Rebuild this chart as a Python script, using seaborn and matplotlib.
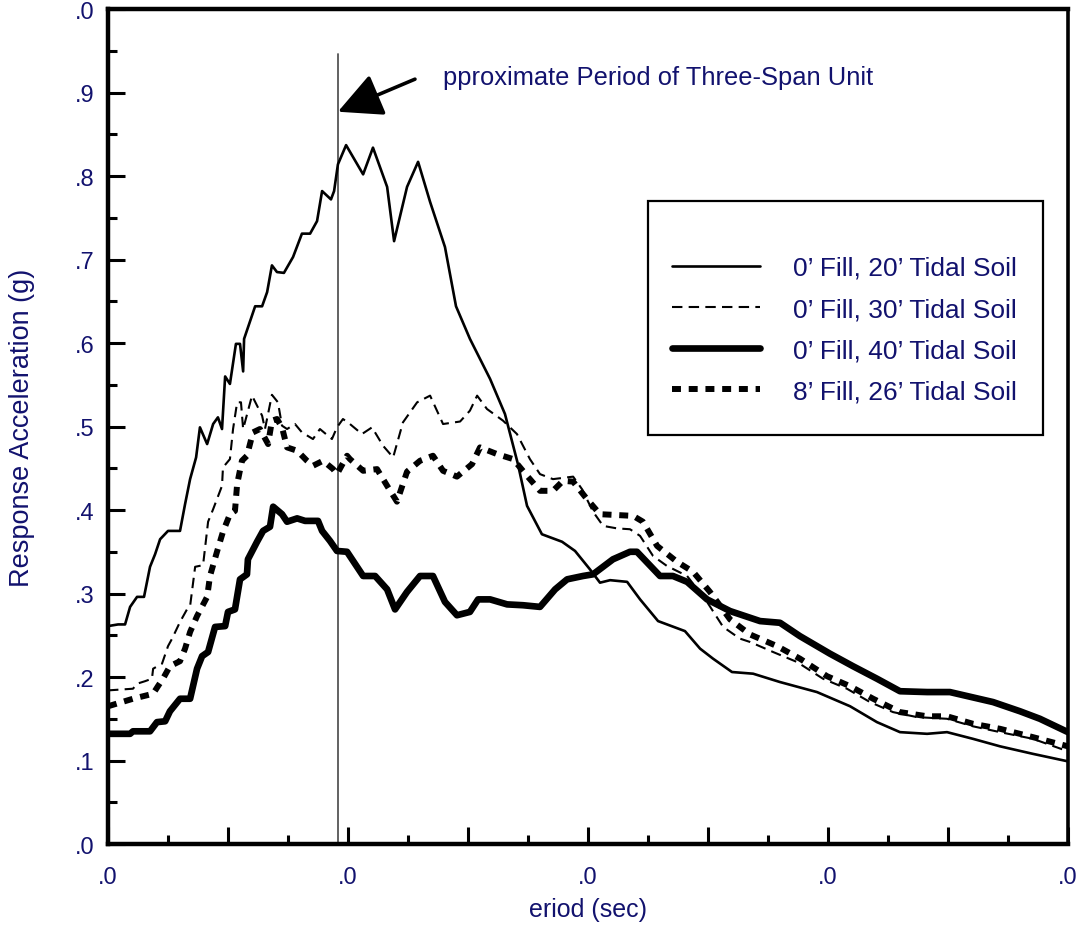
import numpy as np
import pandas as pd
import matplotlib
matplotlib.use("Agg")
import matplotlib.pyplot as plt
from matplotlib.patches import Rectangle
import seaborn as sns

sns.set_style("white")
plt.rcParams['font.family'] = ['Liberation Sans', 'DejaVu Sans']
navy = '#12126e'

# response spectra, period (sec) vs spectral acceleration (g)
t_20 = [0.000, 0.042, 0.071, 0.092, 0.121, 0.150, 0.175, 0.196, 0.217, 0.250, 0.300, 0.321, 0.342,
        0.367, 0.383, 0.413, 0.438, 0.458, 0.475, 0.488, 0.508, 0.533, 0.550, 0.563, 0.567, 0.613,
        0.642, 0.663, 0.683, 0.704, 0.733, 0.771, 0.808, 0.842, 0.871, 0.892, 0.929, 0.942, 0.958,
        0.992, 1.063, 1.104, 1.163, 1.192, 1.246, 1.292, 1.342, 1.404, 1.450, 1.508, 1.592, 1.654,
        1.708, 1.746, 1.808, 1.892, 1.946, 2.008, 2.050, 2.092, 2.163, 2.217, 2.292, 2.404, 2.467,
        2.521, 2.600, 2.688, 2.800, 2.954, 3.092, 3.204, 3.300, 3.413, 3.496, 3.604, 3.717, 3.854, 4.000]
a_20 = [0.261, 0.263, 0.263, 0.284, 0.296, 0.296, 0.332, 0.347, 0.365, 0.375, 0.375, 0.407, 0.437,
        0.463, 0.499, 0.479, 0.503, 0.511, 0.497, 0.560, 0.551, 0.599, 0.599, 0.566, 0.605, 0.644,
        0.644, 0.661, 0.693, 0.685, 0.684, 0.703, 0.731, 0.731, 0.746, 0.782, 0.772, 0.782, 0.814,
        0.837, 0.802, 0.834, 0.787, 0.722, 0.787, 0.817, 0.769, 0.715, 0.644, 0.605, 0.557, 0.515,
        0.455, 0.405, 0.371, 0.362, 0.351, 0.329, 0.313, 0.316, 0.314, 0.293, 0.267, 0.255, 0.234,
        0.222, 0.206, 0.204, 0.194, 0.182, 0.165, 0.146, 0.134, 0.132, 0.134, 0.126, 0.117, 0.108, 0.099]

t_30 = [0.000, 0.104, 0.121, 0.154, 0.183, 0.188, 0.225, 0.250, 0.267, 0.300, 0.329, 0.342, 0.363,
        0.396, 0.417, 0.438, 0.475, 0.479, 0.508, 0.521, 0.538, 0.554, 0.563, 0.600, 0.642, 0.654,
        0.683, 0.708, 0.725, 0.746, 0.779, 0.808, 0.854, 0.883, 0.933, 0.954, 0.979, 1.008, 1.058,
        1.100, 1.146, 1.188, 1.229, 1.288, 1.342, 1.396, 1.467, 1.508, 1.538, 1.579, 1.646, 1.704,
        1.758, 1.800, 1.854, 1.938, 1.975, 2.021, 2.063, 2.121, 2.175, 2.217, 2.271, 2.329, 2.413,
        2.496, 2.563, 2.633, 2.675, 2.771, 2.871, 2.979, 3.079, 3.175, 3.271, 3.371, 3.496, 3.604,
        3.717, 3.854, 4.000]
a_30 = [0.184, 0.186, 0.192, 0.195, 0.198, 0.210, 0.216, 0.237, 0.246, 0.266, 0.281, 0.285, 0.332,
        0.334, 0.386, 0.401, 0.429, 0.451, 0.461, 0.497, 0.529, 0.529, 0.497, 0.537, 0.513, 0.497,
        0.538, 0.529, 0.501, 0.497, 0.503, 0.493, 0.485, 0.497, 0.485, 0.499, 0.509, 0.503, 0.491,
        0.499, 0.477, 0.463, 0.505, 0.529, 0.537, 0.503, 0.506, 0.519, 0.537, 0.521, 0.507, 0.491,
        0.461, 0.443, 0.437, 0.440, 0.425, 0.398, 0.381, 0.378, 0.377, 0.369, 0.345, 0.333, 0.321,
        0.290, 0.260, 0.246, 0.242, 0.230, 0.218, 0.198, 0.186, 0.170, 0.158, 0.152, 0.150, 0.141,
        0.134, 0.126, 0.111]

t_40 = [0.000, 0.092, 0.104, 0.175, 0.204, 0.238, 0.258, 0.300, 0.342, 0.371, 0.392, 0.417, 0.446,
        0.488, 0.500, 0.529, 0.550, 0.579, 0.583, 0.621, 0.646, 0.675, 0.688, 0.725, 0.746, 0.788,
        0.821, 0.875, 0.892, 0.925, 0.954, 0.996, 1.063, 1.113, 1.163, 1.196, 1.246, 1.300, 1.354,
        1.404, 1.454, 1.508, 1.542, 1.592, 1.663, 1.729, 1.800, 1.863, 1.913, 1.979, 2.021, 2.104,
        2.175, 2.204, 2.300, 2.354, 2.413, 2.496, 2.592, 2.717, 2.800, 2.883, 3.008, 3.104, 3.204,
        3.300, 3.413, 3.508, 3.688, 3.800, 3.883, 4.000]
a_40 = [0.132, 0.132, 0.135, 0.135, 0.146, 0.147, 0.159, 0.174, 0.174, 0.210, 0.225, 0.230, 0.260,
        0.261, 0.278, 0.281, 0.317, 0.323, 0.341, 0.362, 0.375, 0.380, 0.404, 0.395, 0.386, 0.390,
        0.387, 0.387, 0.375, 0.363, 0.351, 0.350, 0.321, 0.321, 0.305, 0.281, 0.302, 0.321, 0.321,
        0.290, 0.274, 0.278, 0.293, 0.293, 0.287, 0.286, 0.284, 0.305, 0.317, 0.321, 0.323, 0.341,
        0.350, 0.350, 0.321, 0.321, 0.314, 0.293, 0.279, 0.267, 0.265, 0.249, 0.228, 0.213, 0.198,
        0.183, 0.182, 0.182, 0.170, 0.159, 0.150, 0.134]

t_26 = [0.000, 0.104, 0.188, 0.208, 0.229, 0.258, 0.300, 0.321, 0.342, 0.371, 0.413, 0.425, 0.454,
        0.479, 0.508, 0.529, 0.538, 0.558, 0.579, 0.604, 0.633, 0.667, 0.683, 0.704, 0.725, 0.746,
        0.788, 0.829, 0.854, 0.896, 0.938, 0.954, 0.996, 1.008, 1.063, 1.121, 1.163, 1.204, 1.246,
        1.300, 1.354, 1.396, 1.454, 1.517, 1.550, 1.621, 1.688, 1.746, 1.800, 1.854, 1.896, 1.938,
        1.996, 2.050, 2.121, 2.188, 2.229, 2.288, 2.371, 2.438, 2.508, 2.592, 2.675, 2.788, 2.883,
        2.996, 3.092, 3.188, 3.300, 3.413, 3.496, 3.604, 3.717, 3.854, 4.000]
a_26 = [0.165, 0.174, 0.180, 0.189, 0.198, 0.213, 0.219, 0.234, 0.254, 0.273, 0.296, 0.321, 0.350,
        0.374, 0.395, 0.399, 0.431, 0.459, 0.465, 0.493, 0.497, 0.479, 0.507, 0.509, 0.499, 0.475,
        0.471, 0.459, 0.453, 0.459, 0.449, 0.443, 0.465, 0.461, 0.447, 0.449, 0.429, 0.410, 0.446,
        0.459, 0.465, 0.447, 0.440, 0.455, 0.475, 0.467, 0.461, 0.441, 0.423, 0.423, 0.435, 0.434,
        0.413, 0.395, 0.394, 0.393, 0.386, 0.357, 0.338, 0.326, 0.302, 0.269, 0.251, 0.237, 0.222,
        0.201, 0.189, 0.174, 0.158, 0.153, 0.153, 0.144, 0.138, 0.128, 0.117]

labels = ["0\u2019 Fill, 20\u2019 Tidal Soil", "0\u2019 Fill, 30\u2019 Tidal Soil",
          "0\u2019 Fill, 40\u2019 Tidal Soil", "8\u2019 Fill, 26\u2019 Tidal Soil"]
approx_period = 0.958
period_line_top = 0.946
note_text = "pproximate Period of Three-Span Unit"

x_ticks = [0, 1, 2, 3, 4]
x_ticklabels = ['.0', '.0', '.0', '.0', '.0']
y_ticks = [0.0, 0.1, 0.2, 0.3, 0.4, 0.5, 0.6, 0.7, 0.8, 0.9, 1.0]
y_ticklabels = ['.0', '.1', '.2', '.3', '.4', '.5', '.6', '.7', '.8', '.9', '.0']

df = pd.concat([
    pd.DataFrame({'period': t_20, 'acc': a_20, 'case': labels[0]}),
    pd.DataFrame({'period': t_30, 'acc': a_30, 'case': labels[1]}),
    pd.DataFrame({'period': t_40, 'acc': a_40, 'case': labels[2]}),
    pd.DataFrame({'period': t_26, 'acc': a_26, 'case': labels[3]}),
])

styles = {
    labels[0]: dict(lw=1.9, linestyle='-'),
    labels[1]: dict(lw=1.5, linestyle=(0, (5, 3))),
    labels[2]: dict(lw=4.8, linestyle='-'),
    labels[3]: dict(lw=4.3, linestyle=(0, (1.5, 1.3))),
}

fig = plt.figure(figsize=(10.9, 9.28), dpi=100)
ax = fig.add_axes([0.0991, 0.0894, 0.8807, 0.8998])

for case in labels:
    sns.lineplot(data=df[df.case == case], x='period', y='acc', ax=ax, color='black',
                 sort=False, estimator=None, label=case, **styles[case])

# approximate period marker + arrow
ax.plot([approx_period, approx_period], [0, period_line_top], color='#555555', lw=1.3, zorder=1)
ax.annotate('', xy=(approx_period, 0.877), xytext=(1.279, 0.916),
            arrowprops=dict(arrowstyle='-|>,head_length=0.9,head_width=0.45', color='black',
                            lw=2.6, mutation_scale=30, shrinkA=0, shrinkB=0))
ax.text(1.396, 0.919, note_text, color=navy, fontsize=18.4, ha='left', va='center')

ax.set_xlim(0, 4)
ax.set_ylim(0, 1.0)
ax.set_xticks(x_ticks)
ax.set_xticklabels(x_ticklabels)
ax.set_xticks([0.5, 1.5, 2.5, 3.5, 0.25, 0.75, 1.25, 1.75, 2.25, 2.75, 3.25, 3.75], minor=True)
ax.set_yticks(y_ticks)
ax.set_yticklabels(y_ticklabels)
ax.set_yticks(np.arange(0.05, 1.0, 0.1), minor=True)

ax.tick_params(axis='both', which='major', direction='in', length=12, width=2.2,
               labelsize=17, labelcolor=navy, color='black')
ax.tick_params(axis='x', which='major', pad=16)
ax.tick_params(axis='y', which='major', pad=10)
ax.tick_params(axis='both', which='minor', direction='in', length=6.5, width=2.2, color='black')
# half-second ticks are long like the majors
for tk in ax.xaxis.get_minor_ticks()[:4]:
    tk.tick1line.set_markersize(12)
ax.tick_params(left=True, bottom=True, right=False, top=False)
ax.tick_params(which='minor', left=True, bottom=True, right=False, top=False)

for s in ['left', 'bottom', 'top']:
    ax.spines[s].set_linewidth(3.2)
    ax.spines[s].set_color('black')
ax.spines['right'].set_linewidth(2.6)
ax.spines['right'].set_color('black')

ax.set_xlabel('eriod (sec)', fontsize=18, color=navy, labelpad=6)
ax.set_ylabel('Response Acceleration (g)', fontsize=19.5, color=navy, labelpad=28)
ax.grid(False)

ax.add_patch(Rectangle((0.5625, 0.490), 0.411, 0.280, transform=ax.transAxes, fill=False,
                       edgecolor='black', lw=1.6, zorder=3))
leg = ax.legend(loc='center left', bbox_to_anchor=(0.588, 0.616), frameon=False, borderpad=0,
                borderaxespad=0, fontsize=19, handlelength=3.3, handletextpad=1.25,
                labelspacing=0.65)
for t in leg.get_texts():
    t.set_color(navy)

fig.savefig('out.png', dpi=100, facecolor='white')
